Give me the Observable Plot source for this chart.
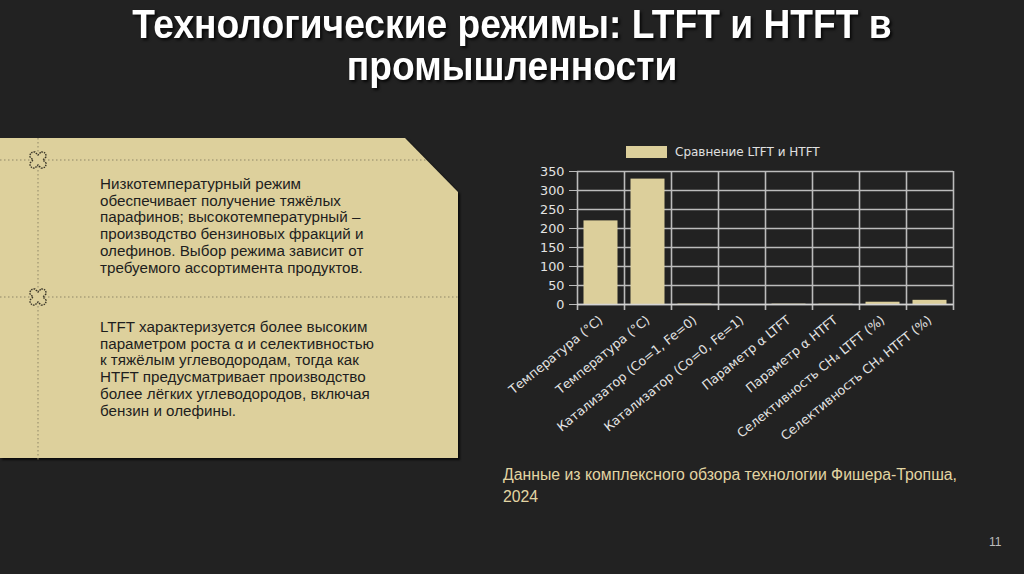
<!DOCTYPE html>
<html lang="ru">
<head>
<meta charset="utf-8">
<script src="https://cdn.jsdelivr.net/npm/d3@7"></script>
<script src="https://cdn.jsdelivr.net/npm/@observablehq/plot@0.6"></script>
<style>
  html, body { margin: 0; padding: 0; }
  body { width: 1024px; height: 574px; background: #222222; position: relative; overflow: hidden; font-family: "Liberation Sans", Arial, sans-serif; }
  .title { position: absolute; left: 0; width: 1024px; top: 3px; text-align: center; color: #ffffff;
    font-family: "Liberation Sans Narrow", "Arial Narrow", "Liberation Sans", sans-serif; font-weight: bold; font-size: 40px; line-height: 42px;
    text-shadow: 2px 2px 3px rgba(0,0,0,0.8); transform: scaleX(0.93); transform-origin: 512px 0; }
  .panel { position: absolute; left: 0; top: 138px; width: 458px; height: 320px; }
  .ptext { position: absolute; left: 100px; color: #1e1e1e; font-size: 15.2px; line-height: 16.7px; white-space: nowrap; }
  .caption { position: absolute; left: 503px; top: 464px; color: #e2d5a3; font-size: 15.8px; line-height: 22px; white-space: nowrap; }
  .pagenum { position: absolute; left: 989px; top: 535px; color: #bdbdbd; font-size: 12px; }
  .legend { position: absolute; left: 626px; top: 145px; display: flex; align-items: center; font-family: "DejaVu Sans", sans-serif; font-size: 12px; color: #e0e0e0; }
  .legend .sw { width: 41px; height: 12px; background: #dccf9b; margin-right: 8px; }
  #chart { position: absolute; left: 500px; top: 140px; }
</style>
</head>
<body>
<div class="title">Технологические режимы: LTFT и HTFT в<br>промышленности</div>

<svg class="panel" viewBox="0 0 458 320" width="458" height="320" style="overflow:visible">
  <polygon points="0,0 405,0 458,54 458,320 0,320" fill="#ddd09c" style="filter: drop-shadow(2px 2px 1px rgba(0,0,0,0.7))"/>
  <line x1="0" y1="22" x2="427" y2="22" stroke="#8f8667" stroke-width="1" stroke-dasharray="1.5 2.5"/>
  <line x1="0" y1="159" x2="458" y2="159" stroke="#8f8667" stroke-width="1" stroke-dasharray="1.5 2.5"/>
  <line x1="38" y1="0" x2="38" y2="322" stroke="#8f8667" stroke-width="1" stroke-dasharray="1.5 2.5"/>
  <g transform="translate(38,22)">
    <path d="M-3.5,-8 Q0,-11.5 3.5,-8 L3.5,-3.5 L8,-3.5 Q11.5,0 8,3.5 L3.5,3.5 L3.5,8 Q0,11.5 -3.5,8 L-3.5,3.5 L-8,3.5 Q-11.5,0 -8,-3.5 L-3.5,-3.5 Z" fill="#ddd09c" stroke="#3a3628" stroke-width="1.4" stroke-dasharray="1.6 1" transform="rotate(45)"/>
  </g>
  <g transform="translate(38,159)">
    <path d="M-3.5,-8 Q0,-11.5 3.5,-8 L3.5,-3.5 L8,-3.5 Q11.5,0 8,3.5 L3.5,3.5 L3.5,8 Q0,11.5 -3.5,8 L-3.5,3.5 L-8,3.5 Q-11.5,0 -8,-3.5 L-3.5,-3.5 Z" fill="#ddd09c" stroke="#3a3628" stroke-width="1.4" stroke-dasharray="1.6 1" transform="rotate(45)"/>
  </g>
</svg>

<div class="ptext" style="top:176px">Низкотемпературный режим<br>обеспечивает получение тяжёлых<br>парафинов; высокотемпературный –<br>производство бензиновых фракций и<br>олефинов. Выбор режима зависит от<br>требуемого ассортимента продуктов.</div>
<div class="ptext" style="top:319px">LTFT характеризуется более высоким<br>параметром роста α и селективностью<br>к тяжёлым углеводородам, тогда как<br>HTFT предусматривает производство<br>более лёгких углеводородов, включая<br>бензин и олефины.</div>

<div class="legend"><div class="sw"></div><span>Сравнение LTFT и HTFT</span></div>
<div id="chart"></div>

<div class="caption">Данные из комплексного обзора технологии Фишера-Тропша,<br>2024</div>
<div class="pagenum">11</div>

<script>
// Data
const categories = [
  "Температура (°C)",
  "Температура (°C) ",
  "Катализатор (Co=1, Fe=0)",
  "Катализатор (Co=0, Fe=1)",
  "Параметр α LTFT",
  "Параметр α HTFT",
  "Селективность CH₄ LTFT (%)",
  "Селективность CH₄ HTFT (%)"
];
const values = [220, 330, 1, 0, 0.9, 0.7, 6, 11];
const yTicks = [0, 50, 100, 150, 200, 250, 300, 350];
const seriesName = "Сравнение LTFT и HTFT";

const data = categories.map((c, i) => ({category: c, value: values[i]}));

const W = 470, H = 310, ML = 77, MR = 17, MT = 31, MB = 146;
const bw = (W - ML - MR) / categories.length;
const gridColor = "#bcbcbc";

const chart = Plot.plot({
  width: W, height: H,
  marginLeft: ML, marginRight: MR, marginTop: MT, marginBottom: MB,
  style: { background: "transparent", color: "#e0e0e0", fontFamily: "DejaVu Sans, sans-serif", fontSize: "12px" },
  x: { type: "band", domain: categories, padding: 0 },
  y: { domain: [0, 350] },
  marks: [
    Plot.gridY(yTicks, { stroke: gridColor, strokeOpacity: 1, strokeWidth: 1.6 }),
    Plot.ruleX(categories, { x: d => d, dx: -bw / 2, stroke: gridColor, strokeWidth: 1.6, insetBottom: -6 }),
    Plot.ruleX(categories.slice(-1), { x: d => d, dx: bw / 2, stroke: gridColor, strokeWidth: 1.6, insetBottom: -6 }),
    Plot.barY(data, { x: "category", y: "value", fill: "#dccf9b", insetLeft: 6.5, insetRight: 6.5, title: d => seriesName }),
    Plot.ruleY([0], { stroke: "#d4d4d4", strokeWidth: 1.6 }),
    Plot.axisY(yTicks, { tickSize: 8, tickPadding: 5, stroke: gridColor, fill: "#e4e4e4", label: null, fontSize: 12.8 }),
    Plot.axisX({ tickSize: 0, tickPadding: 14, tickRotate: -39, textAnchor: "end", label: null, fill: "#e4e4e4", tickFormat: d => d.trim(), fontSize: 12.6 })
  ]
});
document.getElementById("chart").appendChild(chart);
</script>
</body>
</html>
